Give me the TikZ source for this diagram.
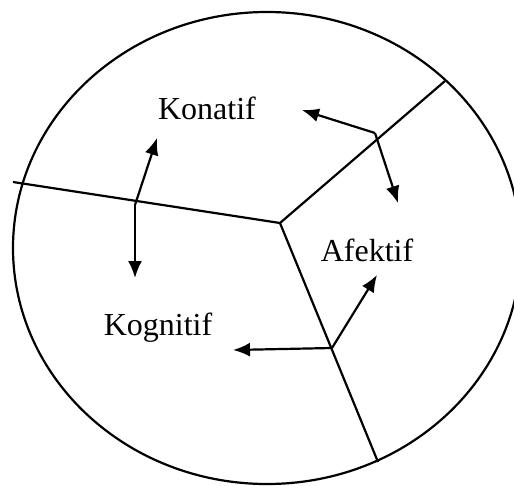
\documentclass[tikz,border=0pt]{standalone}
\usepackage{fontspec}
\setmainfont{Liberation Serif}
\usetikzlibrary{arrows.meta}
\begin{document}
\begin{tikzpicture}[x=1pt, y=-1pt, line width=2.2pt,
        panah/.style={-{Latex[length=17pt,width=14pt]}},
        teks/.style={font=\fontsize{32}{38}\selectfont}]
    \useasboundingbox (0,0) rectangle (514,485);
    \clip (0,0) rectangle (514,485);
    \draw (267,248) ellipse [x radius=254, y radius=236];
    % garis pembagi
    \coordinate (pusat) at (280,223);
    \coordinate (kiri) at (13,182);
    \coordinate (atas) at (445,81);
    \coordinate (bawah) at (378,462);
    \draw (kiri) -- (pusat) -- (atas);
    \draw (pusat) -- (bawah);
    % label
    \node[teks] (konatif) at (207,108) {Konatif};
    \node[teks] (afektif) at (367,250) {Afektif};
    \node[teks] (kognitif) at (158,328) {Kognitif};
    % panah
    \coordinate (t1) at (135,205);
    \coordinate (t2) at (375,133);
    \coordinate (t3) at (332,348);
    \coordinate (u1) at (157,138);
    \coordinate (d1) at (135,278);
    \coordinate (u2) at (302,110);
    \coordinate (d2) at (398,203);
    \coordinate (u3) at (377,275);
    \coordinate (d3) at (233,350);
    \foreach \t/\a/\b in {t1/u1/d1, t2/u2/d2, t3/u3/d3}{
        \draw[panah] (\t) -- (\a);
        \draw[panah] (\t) -- (\b);}
\end{tikzpicture}
\end{document}
